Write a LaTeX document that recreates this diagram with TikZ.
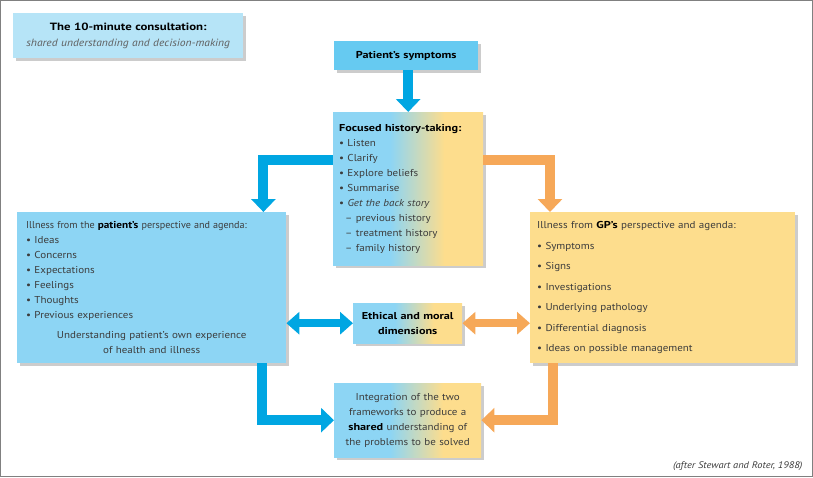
\documentclass[tikz,border=0pt]{standalone}
\usepackage{graphicx}
\usepackage{fontspec}
\setmainfont{PT Sans}[FakeStretch=1.1, BoldFeatures={FakeStretch=1.22}]
\usetikzlibrary{arrows.meta, positioning, shadows}

\definecolor{palesky}{RGB}{182,228,247}
\definecolor{symfill}{RGB}{102,202,241}
\definecolor{skyfill}{RGB}{141,213,244}
\definecolor{sandfill}{RGB}{253,221,141}
\definecolor{bluearr}{RGB}{0,166,226}
\definecolor{orangearr}{RGB}{246,168,88}
\definecolor{inktext}{RGB}{60,60,60}
\definecolor{softtext}{RGB}{95,95,95}
\definecolor{framegray}{RGB}{128,128,128}

\pgfdeclarehorizontalshading{skysand}{100bp}{color(0bp)=(skyfill); color(44bp)=(skyfill);
    color(62bp)=(sandfill); color(100bp)=(sandfill)}

\begin{document}
\begin{tikzpicture}[x=1pt, y=-1pt,
    box/.style={
        rectangle, anchor=north west, text=inktext, inner ysep=4pt,
        font=\fontsize{10}{15}\selectfont,
        drop shadow={shadow xshift=3pt, shadow yshift=-3pt,
                     fill=black, opacity=0.2}
    },
    mixbox/.style={box, shade, shading=skysand},
    bluearrow/.style={draw=bluearr, line width=10pt,
                      -{Triangle[width=24pt,length=13pt]}},
    orangearrow/.style={draw=orangearr, line width=10pt,
                        -{Triangle[width=24pt,length=13pt]}},
    blueboth/.style={draw=bluearr, line width=8pt,
        {Triangle[width=22pt,length=13pt]}-{Triangle[width=22pt,length=13pt]}},
    orangeboth/.style={draw=orangearr, line width=8pt,
        {Triangle[width=22pt,length=13pt]}-{Triangle[width=22pt,length=13pt]}}
]
\useasboundingbox (0,0) rectangle (813,477);
\draw[framegray, line width=1.2pt] (0.6,0.6) rectangle (812.4,476.4);

\node[box, fill=palesky, text width=222pt, inner xsep=4pt,
      minimum height=45pt, align=center,
      font=\fontsize{10.5}{16}\selectfont] (title) at (13,13)
    {\textbf{\color{black}The 10-minute consultation:}\\
     {\color{softtext}\itshape shared understanding and decision-making}};

\node[box, fill=symfill, text width=130pt, inner xsep=7pt,
      minimum height=29pt, align=center] (symptoms) at (334,41)
    {\textbf{\color{black}Patient's symptoms}};

\node[mixbox, text width=138pt, inner xsep=6pt, minimum height=153pt,
      align=left] (history) at (333,112)
    {\textbf{\color{black}Focused history-taking:}\\
     \textbullet\ Listen\\
     \textbullet\ Clarify\\
     \textbullet\ Explore beliefs\\
     \textbullet\ Summarise\\
     \textbullet\ \textit{Get the back story}\\
     \hspace*{6pt}-- previous history\\
     \hspace*{6pt}-- treatment history\\
     \hspace*{6pt}-- family history\\[-4pt]};

\node[box, fill=skyfill, text width=259pt, inner xsep=5pt,
      minimum height=151pt, align=left] (patient) at (17,212)
    {\hspace*{4pt}\scalebox{0.92}[1]{Illness from the \textbf{\color{black}patient's} perspective and agenda:}\\
     \hspace*{4pt}\textbullet\ Ideas\\
     \hspace*{4pt}\textbullet\ Concerns\\
     \hspace*{4pt}\textbullet\ Expectations\\
     \hspace*{4pt}\textbullet\ Feelings\\
     \hspace*{4pt}\textbullet\ Thoughts\\
     \hspace*{4pt}\textbullet\ Previous experiences\\[5pt]
     \makebox[\linewidth]{Understanding patient's own experience}\\
     \makebox[\linewidth]{of health and illness}};

\node[box, fill=sandfill, text width=251pt, inner xsep=7pt,
      minimum height=151pt, align=left,
      font=\fontsize{10}{20.5}\selectfont] (gp) at (530,212)
    {Illness from \textbf{\color{black}GP's} perspective and agenda:\\
     \textbullet\ Symptoms\\
     \textbullet\ Signs\\
     \textbullet\ Investigations\\
     \textbullet\ Underlying pathology\\
     \textbullet\ Differential diagnosis\\
     \textbullet\ Ideas on possible management};

\node[mixbox, text width=99pt, inner xsep=5pt, minimum height=40pt,
      align=center] (ethics) at (353,303)
    {\textbf{\color{black}Ethical and moral\\ dimensions}};

\node[mixbox, text width=137pt, inner xsep=5pt, minimum height=74pt,
      align=center] (shared) at (334,383)
    {Integration of the two\\
     frameworks to produce a\\
     \textbf{\color{black}shared} understanding of\\
     the problems to be solved};

\node[font=\fontsize{9.5}{11}\selectfont\itshape, text=inktext,
      anchor=base east] (source) at (806,468)
    {(after Stewart and Roter, 1988)};

\draw[bluearrow] (symptoms.south -| history.north) -- (history.north);
\draw[bluearrow] ([yshift=-48pt]history.north west) -| ([xshift=-23pt]patient.north east);
\draw[orangearrow] ([yshift=-48pt]history.north east) -| ([xshift=20pt]gp.north west);
\draw[blueboth] (ethics.west -| patient.east) -- (ethics.west);
\draw[orangeboth] (ethics.east) -- (ethics.east -| gp.west);
\draw[bluearrow] ([xshift=-24pt]patient.south east) |- (shared.west);
\draw[orangearrow] ([xshift=23pt]gp.south west) |- (shared.east);
\end{tikzpicture}
\end{document}
